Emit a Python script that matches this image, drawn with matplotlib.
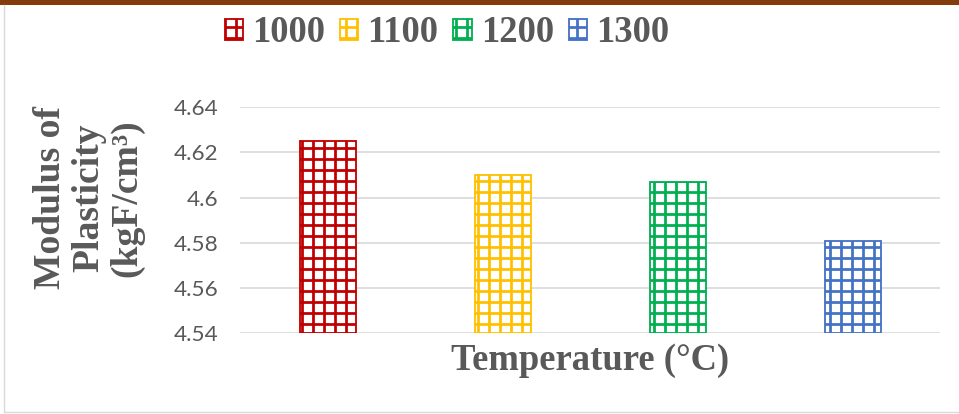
import matplotlib
matplotlib.use("Agg")
import matplotlib.pyplot as plt
from matplotlib.patches import Rectangle
from matplotlib.lines import Line2D

# Data
temperatures = ["1000", "1100", "1200", "1300"]
modulus = [4.625, 4.610, 4.607, 4.581]
colors = ["#C00000", "#FFC000", "#00B050", "#4472C4"]
y_ticks = [4.54, 4.56, 4.58, 4.60, 4.62, 4.64]
y_tick_labels = ["4.54", "4.56", "4.58", "4.6", "4.62", "4.64"]

DPI = 66
W, H = 959, 414
plt.rcParams["hatch.linewidth"] = 3.0

fig = plt.figure(figsize=(W / DPI, H / DPI), dpi=DPI)
fig.patch.set_facecolor("white")

# Axes placement in pixel terms
left, right, top, bottom = 240, 940, 107.3, 333.3
ax = fig.add_axes([left / W, 1 - bottom / H, (right - left) / W, (bottom - top) / H])

serif = ["Liberation Serif", "DejaVu Serif"]
text_gray = "#595959"

handles = []
for i, (lab, val, c) in enumerate(zip(temperatures, modulus, colors)):
    b = ax.bar(i, val - y_ticks[0], bottom=y_ticks[0], width=0.32,
               facecolor="white", edgecolor=c, hatch="+", linewidth=2.0,
               label=lab, zorder=3)
    handles.append(b)

ax.set_xlim(-0.5, len(temperatures) - 0.5)
ax.set_ylim(y_ticks[0], y_ticks[-1])
ax.set_yticks(y_ticks)
ax.set_yticklabels(y_tick_labels, fontfamily="Lato", fontsize=24.5, color=text_gray)
ax.tick_params(axis="y", length=0, pad=24)
ax.set_xticks([])
ax.grid(axis="y", color="#D9D9D9", linewidth=1.8, zorder=0)
for s in ax.spines.values():
    s.set_visible(False)

# Axis titles
fig.text(590 / W, 1 - 360 / H, "Temperature (°C)", ha="center", va="center",
         fontfamily=serif, fontweight="bold", fontsize=40, color=text_gray)
fig.text(89 / W, 1 - 198 / H, "Modulus of\nPlasticity\n(kgF/cm³)", ha="center",
         va="center", rotation=90, multialignment="center", linespacing=1.12,
         fontfamily=serif, fontweight="bold", fontsize=41, color=text_gray)

# Legend across the top
leg = fig.legend(handles=handles, labels=temperatures, loc="center",
                 bbox_to_anchor=(447 / W, 1 - 33 / H), ncol=4, frameon=False,
                 prop={"family": serif, "weight": "bold", "size": 40},
                 handlelength=0.5, handleheight=0.5, handletextpad=0.25,
                 columnspacing=0.4, borderaxespad=0, borderpad=0)
for t in leg.get_texts():
    t.set_color(text_gray)

# Frame decoration: brown top band, light grey left and bottom border
fig.add_artist(Rectangle((0, 1 - 5 / H), 1, 5 / H, transform=fig.transFigure,
                         facecolor="#843C0C", edgecolor="none"))
fig.add_artist(Line2D([4 / W, 4 / W], [1 - 412 / H, 1 - 5 / H], transform=fig.transFigure,
                      color="#D9D9D9", linewidth=1.5))
fig.add_artist(Line2D([4 / W, 1], [1 - 412 / H, 1 - 412 / H], transform=fig.transFigure,
                      color="#D9D9D9", linewidth=1.5))

fig.savefig("out.png", dpi=DPI)
